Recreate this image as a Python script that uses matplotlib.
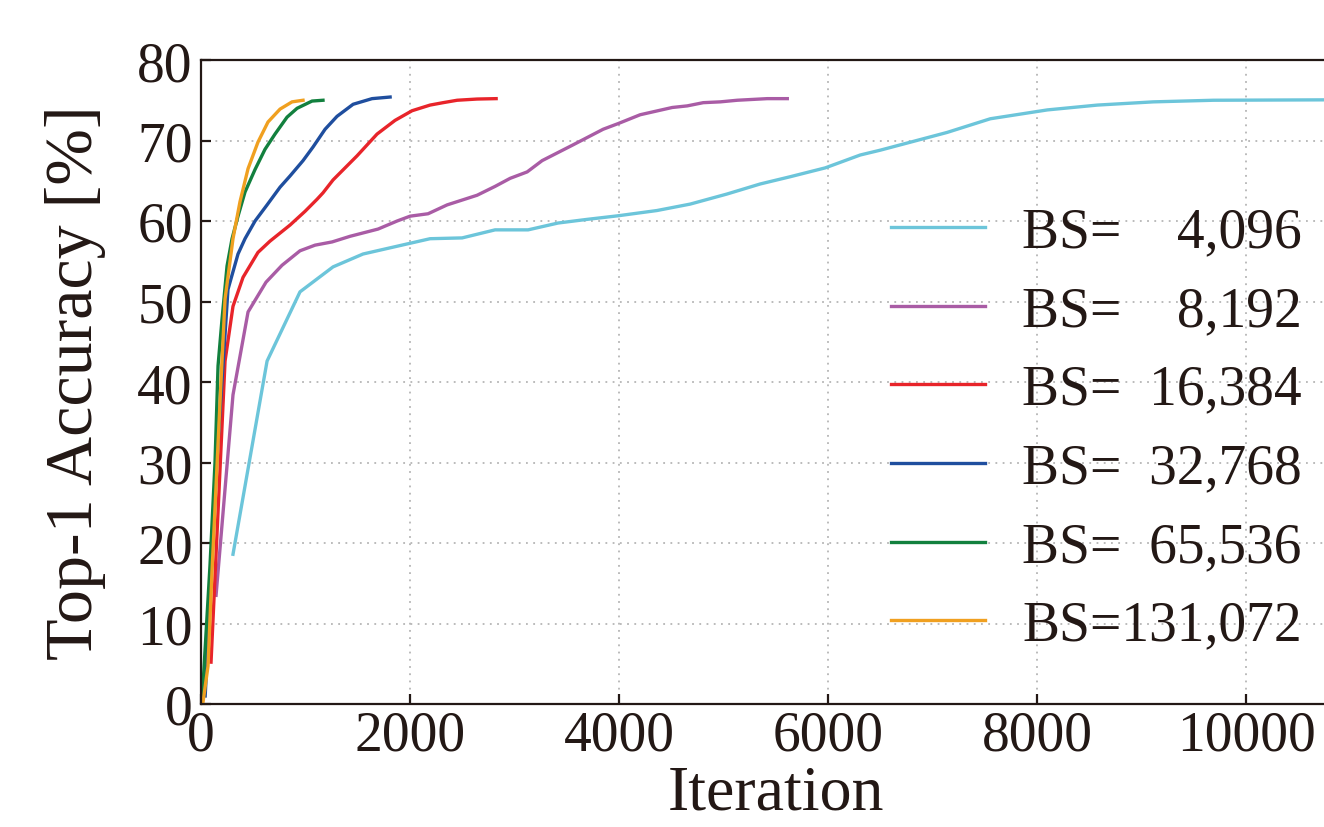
import matplotlib
matplotlib.use("Agg")
import matplotlib.pyplot as plt

plt.rcParams['font.family'] = ['Liberation Serif', 'DejaVu Serif']
TXT = '#231815'

labels = ["BS=\u2007\u20074,096", "BS=\u2007\u20078,192", "BS=\u200716,384",
          "BS=\u200732,768", "BS=\u200765,536", "BS=131,072"]
colors = ['#6CC5DA', '#A95CA5', '#E8242A', '#1F4E9E', '#12803E', '#F0A020']

bs4096_x = [306, 632, 947, 1263, 1550, 2191, 2498, 2813, 3129, 3416, 3692, 3990, 4361, 4679,
            5031, 5349, 5636, 5971, 6306, 6498, 7136, 7550, 8096, 8574, 9110, 9684, 10746]
bs4096_y = [18.6, 42.6, 51.2, 54.3, 55.9, 57.8, 57.9, 58.9, 58.9, 59.75, 60.2, 60.65, 61.3, 62.1,
            63.35, 64.6, 65.5, 66.6, 68.2, 68.8, 71.0, 72.7, 73.8, 74.4, 74.8, 75.0, 75.05]

bs8192_x = [144, 306, 450, 622, 775, 947, 1091, 1254, 1426, 1694, 1876, 2000, 2172, 2354, 2641,
            2813, 2957, 3120, 3263, 3550, 3847, 3990, 4201, 4507, 4651, 4804, 4967, 5129, 5416, 5608]
bs8192_y = [13.5, 38.4, 48.7, 52.4, 54.5, 56.3, 57.0, 57.4, 58.1, 59.0, 60.0, 60.6, 60.9, 62.0, 63.2,
            64.3, 65.3, 66.1, 67.5, 69.4, 71.4, 72.1, 73.2, 74.1, 74.3, 74.7, 74.8, 75.0, 75.2, 75.2]

bs16384_x = [96, 230, 306, 402, 545, 660, 852, 995, 1110, 1167, 1263, 1493, 1684, 1856, 2019,
             2191, 2316, 2450, 2641, 2823]
bs16384_y = [5.2, 42.6, 49.4, 53.0, 56.1, 57.5, 59.5, 61.2, 62.7, 63.5, 65.1, 68.1, 70.8, 72.5, 73.7,
             74.4, 74.7, 75.0, 75.15, 75.2]

bs32768_x = [40, 150, 258, 354, 421, 517, 632, 756, 852, 976, 1072, 1187, 1301, 1455, 1636, 1809]
bs32768_y = [1.0, 30.0, 51.5, 55.9, 57.8, 60.0, 62.0, 64.2, 65.6, 67.5, 69.2, 71.4, 73.0, 74.5, 75.2, 75.4]

bs65536_x = [10, 86, 134, 163, 201, 249, 297, 354, 421, 517, 612, 708, 823, 919, 1062, 1167]
bs65536_y = [0.3, 17.2, 30.0, 42.0, 47.8, 54.4, 57.8, 60.6, 63.6, 66.4, 68.9, 70.8, 72.9, 74.0, 74.9, 75.0]

bs131072_x = [19, 67, 105, 153, 191, 230, 306, 373, 450, 545, 641, 756, 871, 976]
bs131072_y = [0.2, 4.7, 16.4, 29.6, 40.0, 50.3, 57.8, 62.4, 66.5, 69.8, 72.3, 73.9, 74.8, 75.0]

series_x = [bs4096_x, bs8192_x, bs16384_x, bs32768_x, bs65536_x, bs131072_x]
series_y = [bs4096_y, bs8192_y, bs16384_y, bs32768_y, bs65536_y, bs131072_y]

x_ticks = [0, 2000, 4000, 6000, 8000, 10000]
y_ticks = [0, 10, 20, 30, 40, 50, 60, 70, 80]

fig = plt.figure(figsize=(13.24, 8.28), dpi=100)
ax = fig.add_axes([201/1324, 123/828, 1150/1324, 644/828])

for xs, ys, c, lab in zip(series_x, series_y, colors, labels):
    ax.plot(xs, ys, color=c, lw=2.4, label=lab)

ax.set_xlim(0, 11000)
ax.set_ylim(0, 80)
ax.set_xticks(x_ticks)
ax.set_yticks(y_ticks)
ax.grid(True, color='#b5b5b5', linestyle=(0, (1, 3)), lw=1.3)
for s in ax.spines.values():
    s.set_color(TXT)
    s.set_linewidth(1.6)
ax.tick_params(direction='in', length=7, width=1.6, color=TXT, labelcolor=TXT, labelsize=40)
ax.tick_params(axis='x', pad=4)
ax.tick_params(axis='y', pad=6)

ax.set_xlabel('Iteration', fontsize=46, color=TXT, labelpad=2)
ax.set_ylabel('Top-1 Accuracy [%]', fontsize=49, color=TXT, labelpad=22)

leg = ax.legend(loc='center right', bbox_to_anchor=(1302/1324, (828-430)/828),
                bbox_transform=fig.transFigure, frameon=False, fontsize=40,
                handlelength=1.69, handletextpad=0.67, labelspacing=0.48,
                borderpad=0, borderaxespad=0)
for t in leg.get_texts():
    t.set_color(TXT)

fig.savefig('out.png', dpi=100)
